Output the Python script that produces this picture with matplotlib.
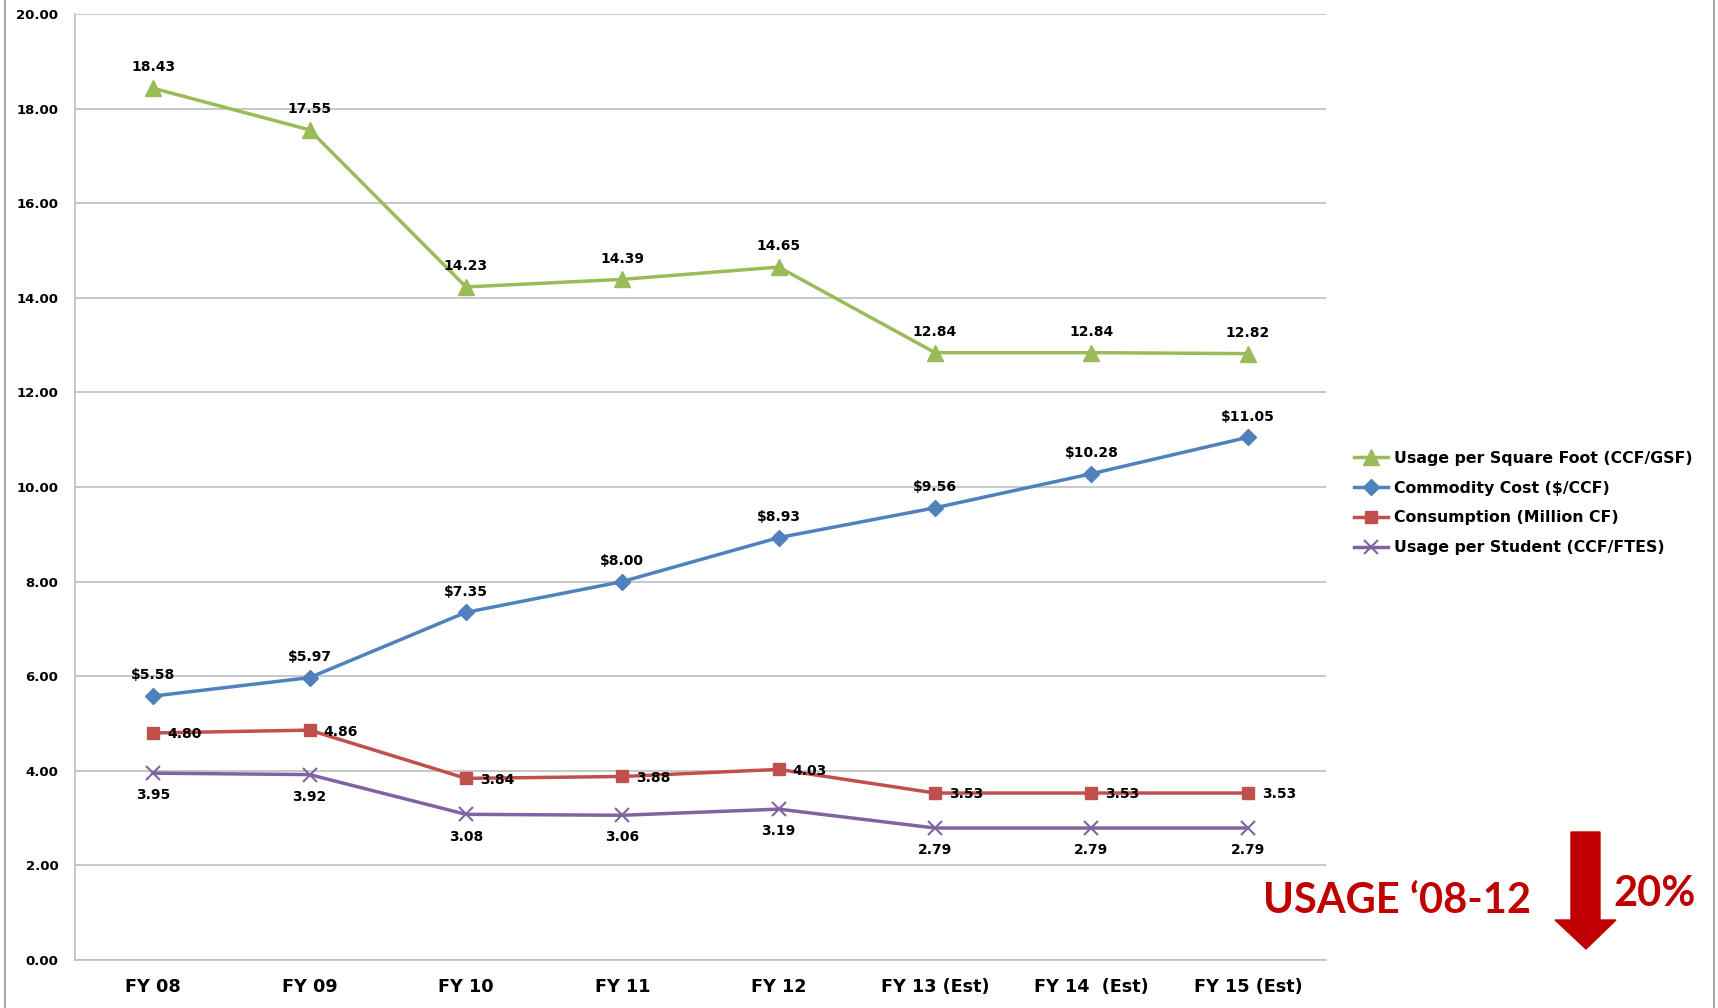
import matplotlib
matplotlib.use("Agg")
import matplotlib.pyplot as plt
from matplotlib.lines import Line2D
from matplotlib.patches import Polygon

categories = ["FY 08", "FY 09", "FY 10", "FY 11", "FY 12",
              "FY 13 (Est)", "FY 14  (Est)", "FY 15 (Est)"]
usage_sqft = [18.43, 17.55, 14.23, 14.39, 14.65, 12.84, 12.84, 12.82]
commodity_cost = [5.58, 5.97, 7.35, 8.00, 8.93, 9.56, 10.28, 11.05]
consumption = [4.80, 4.86, 3.84, 3.88, 4.03, 3.53, 3.53, 3.53]
usage_student = [3.95, 3.92, 3.08, 3.06, 3.19, 2.79, 2.79, 2.79]
y_ticks = [0, 2, 4, 6, 8, 10, 12, 14, 16, 18, 20]

W, H = 1718, 1008
fig = plt.figure(figsize=(W / 100, H / 100), dpi=100)
plt.rcParams['font.family'] = ['DejaVu Sans']
ax = fig.add_axes([75 / W, 1 - 960 / H, (1326 - 75) / W, (960 - 14) / H])

x = list(range(len(categories)))
green, blue, red, purple = "#9BBB59", "#4F81BD", "#C0504D", "#8064A2"

series = [
    (usage_sqft, green, "^", 11, "Usage per Square Foot (CCF/GSF)", "above", ""),
    (commodity_cost, blue, "D", 8, "Commodity Cost ($/CCF)", "above", "\\$"),
    (consumption, red, "s", 9, "Consumption (Million CF)", "right", ""),
    (usage_student, purple, "x", 10, "Usage per Student (CCF/FTES)", "below", ""),
]

handles = []
for vals, col, mk, ms, lab, pos, pre in series:
    ln, = ax.plot(x, vals, color=col, lw=2.5, marker=mk, ms=ms,
                  markeredgecolor=col, markerfacecolor=col,
                  markeredgewidth=1.5 if mk == "x" else 1, label=lab, zorder=3)
    handles.append(ln)
    for xi, v in zip(x, vals):
        txt = f"{pre}{v:.2f}"
        if pos == "above":
            ax.annotate(txt, (xi, v), xytext=(0, 15), textcoords="offset points",
                        ha="center", va="center", fontsize=10, fontweight="bold", zorder=4)
        elif pos == "below":
            ax.annotate(txt, (xi, v), xytext=(0, -16), textcoords="offset points",
                        ha="center", va="center", fontsize=10, fontweight="bold", zorder=4)
        else:
            ax.annotate(txt, (xi, v), xytext=(10, -1), textcoords="offset points",
                        ha="left", va="center", fontsize=10, fontweight="bold", zorder=4)

ax.set_xlim(-0.5, len(categories) - 0.5)
ax.set_ylim(0, 20)
ax.set_yticks(y_ticks)
ax.set_yticklabels([f"{t:.2f}" for t in y_ticks], fontsize=9.5, fontweight="bold")
ax.set_xticks(x)
ax.set_xticklabels(categories, fontsize=12.7, fontweight="bold")
ax.tick_params(axis="both", length=0)
ax.tick_params(axis="y", pad=12)
ax.tick_params(axis="x", pad=13)
ax.grid(axis="y", color="#BFBFBF", lw=1.2)
ax.set_axisbelow(True)
for s in ["top", "right"]:
    ax.spines[s].set_visible(False)
for s in ["left", "bottom"]:
    ax.spines[s].set_color("#BFBFBF")
    ax.spines[s].set_linewidth(1.2)

fig.legend(handles=handles, loc="center left",
           bbox_to_anchor=(1346 / W, 1 - 503 / H), frameon=False,
           prop={"size": 11.3, "weight": "bold"}, handlelength=2.2,
           handletextpad=0.35, labelspacing=0.95, borderpad=0)

# figure border lines
fig.add_artist(Line2D([5 / W, 5 / W], [0, 1], color="#A6A6A6", lw=1.5,
                      transform=fig.transFigure))
fig.add_artist(Line2D([1714 / W, 1714 / W], [0, 1], color="#A6A6A6", lw=1.5,
                      transform=fig.transFigure))

# annotation: usage reduction
dark_red = "#C00000"
fig.text(1263 / W, 1 - 913 / H, "USAGE \u201808-12", color=dark_red,
         fontsize=30, fontweight="bold", family=["Lato", "DejaVu Sans"],
         ha="left", va="baseline")
fig.text(1613 / W, 1 - 906 / H, "20%", color=dark_red,
         fontsize=30, fontweight="bold", family=["Lato", "DejaVu Sans"],
         ha="left", va="baseline")
arrow_px = [(1571, 832), (1600, 832), (1600, 920), (1616, 920),
            (1586, 949), (1555, 920), (1571, 920)]
fig.add_artist(Polygon([(px / W, 1 - py / H) for px, py in arrow_px],
                       closed=True, facecolor=dark_red, edgecolor=dark_red,
                       transform=fig.transFigure))

fig.savefig("out.png", dpi=100)
